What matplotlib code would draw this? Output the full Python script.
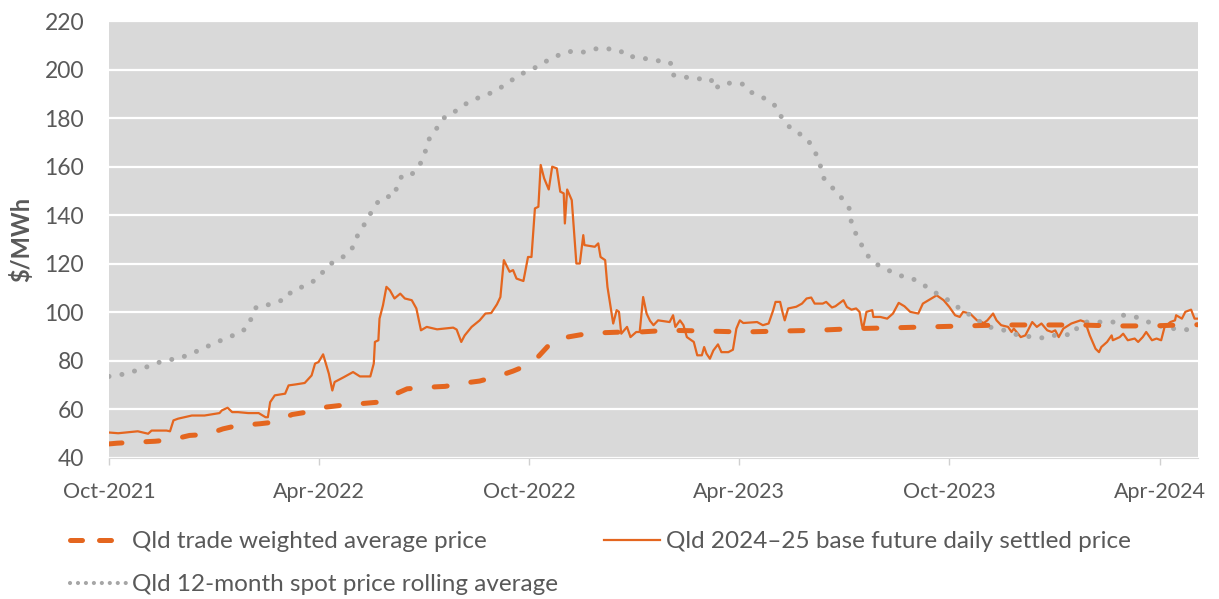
import numpy as np
import pandas as pd
import matplotlib
matplotlib.use("Agg")
import matplotlib.pyplot as plt
import matplotlib.dates as mdates
from matplotlib.lines import Line2D

plt.rcParams['font.family'] = ['Lato', 'DejaVu Sans']

START = pd.Timestamp('2021-10-01')

# --- data: day offsets from 1 Oct 2021, $/MWh ---
futures_days = [0, 8, 17, 25, 34, 37, 50, 53, 56, 60, 72, 83, 96, 98, 103, 107, 112, 121, 130, 136,
                138, 140, 144, 153, 156, 162, 170, 176, 179, 182, 186, 188, 191, 194, 196, 204, 212, 218,
                227, 230, 231, 234, 235, 238, 241, 244, 248, 253, 257, 263, 267, 271, 276, 285, 299, 302,
                306, 309, 315, 322, 327, 332, 337, 340, 343, 348, 351, 354, 360, 364, 367, 370, 373, 375,
                378, 382, 385, 389, 392, 395, 396, 398, 402, 406, 409, 412, 413, 422, 425, 427, 431, 433,
                438, 441, 443, 445, 450, 453, 458, 461, 464, 467, 470, 473, 477, 487, 490, 492, 496, 499,
                502, 508, 511, 515, 517, 519, 522, 525, 529, 532, 538, 542, 545, 548, 551, 563, 568, 573,
                577, 579, 583, 585, 587, 590, 597, 602, 606, 610, 613, 620, 623, 628, 631, 638, 641, 645,
                649, 652, 654, 655, 658, 663, 664, 670, 676, 681, 686, 691, 696, 703, 707, 712, 719, 725,
                730, 735, 739, 742, 748, 754, 760, 763, 768, 771, 775, 781, 784, 786, 792, 796, 802, 806,
                810, 815, 819, 822, 825, 829, 836, 844, 848, 852, 857, 860, 862, 867, 871, 872, 878, 881,
                885, 891, 894, 898, 901, 906, 910, 914, 917, 922, 926, 927, 932, 935, 940, 943, 946]
futures_price = [50.5, 50.2, 50.6, 51.0, 50.0, 51.3, 51.3, 51.0, 55.5, 56.2, 57.5, 57.5, 58.5, 59.6, 60.7,
                 58.9, 58.9, 58.5, 58.5, 56.8, 56.8, 63.0, 65.8, 66.5, 69.9, 70.3, 70.9, 74.0, 78.9, 79.5,
                 82.7, 79.5, 74.7, 67.8, 71.3, 73.3, 75.4, 73.6, 73.6, 78.9, 87.8, 88.5, 97.4, 102.9, 110.5,
                 109.1, 105.7, 107.7, 105.7, 105.0, 101.6, 92.6, 94.0, 93.0, 93.7, 92.9, 87.8, 90.5, 94.0,
                 96.7, 99.5, 99.7, 103.3, 106.3, 121.5, 116.7, 117.4, 113.9, 112.9, 122.8, 122.8, 142.8,
                 143.5, 160.7, 155.2, 150.6, 160.0, 159.3, 149.7, 149.0, 136.6, 150.6, 146.2, 120.1, 120.1,
                 131.8, 127.7, 127.0, 128.4, 122.8, 121.5, 110.5, 95.4, 100.9, 100.2, 91.2, 94.0, 89.8,
                 91.9, 91.9, 106.3, 99.5, 96.5, 94.7, 96.7, 96.0, 98.8, 94.0, 96.7, 94.7, 89.8, 87.8, 82.3,
                 82.3, 85.7, 83.0, 80.9, 84.3, 86.8, 83.6, 83.6, 84.6, 93.3, 96.7, 95.6, 96.0, 94.7, 95.4,
                 100.9, 104.3, 104.3, 100.2, 96.7, 101.6, 102.3, 103.6, 105.7, 106.1, 103.6, 103.6, 104.3,
                 102.0, 102.5, 105.0, 102.2, 101.1, 101.6, 100.2, 94.7, 93.3, 100.2, 100.9, 98.1, 98.1,
                 97.4, 99.5, 103.9, 102.5, 100.2, 99.5, 103.6, 105.0, 107.0, 105.0, 102.2, 98.8, 98.1,
                 100.2, 99.5, 96.7, 95.6, 96.7, 99.5, 96.7, 94.7, 94.0, 91.9, 93.3, 89.8, 90.5, 96.0, 94.0,
                 95.4, 92.6, 91.9, 92.6, 89.8, 93.3, 95.4, 96.7, 96.0, 90.5, 85.0, 83.6, 85.7, 87.8, 90.5,
                 88.5, 89.8, 91.2, 88.5, 89.2, 87.8, 89.8, 91.9, 88.5, 89.2, 88.5, 94.0, 96.0, 96.7, 98.8,
                 97.4, 100.2, 101.1, 97.4, 97.4]

spot_days = [0, 15, 31, 47, 62, 78, 92, 108, 115, 122, 124, 128, 137, 145, 154, 158, 173, 180, 186, 193,
             201, 208, 213, 216, 221, 225, 230, 235, 241, 248, 250, 254, 261, 267, 272, 275, 277, 282, 287,
             292, 298, 305, 312, 320, 329, 336, 344, 351, 358, 366, 374, 382, 389, 397, 406, 412, 420, 429,
             436, 444, 450, 458, 467, 476, 484, 489, 490, 498, 506, 515, 523, 526, 533, 542, 550, 555, 563,
             571, 578, 582, 587, 593, 600, 606, 611, 615, 618, 620, 626, 632, 638, 643, 644, 647, 651, 655,
             660, 667, 674, 682, 689, 698, 705, 713, 720, 728, 735, 741, 749, 757, 764, 772, 781, 790, 798,
             806, 815, 823, 830, 838, 842, 849, 857, 865, 874, 881, 890, 898, 906, 914, 922, 930, 940, 946]
spot_price = [73.6, 74.7, 77.2, 80.0, 81.2, 84.3, 87.4, 90.5, 91.9, 94.7, 98.8, 102.2, 102.9, 104.3, 105.4,
              108.4, 111.6, 113.5, 116.7, 120.1, 122.2, 124.2, 127.7, 131.8, 135.5, 139.1, 142.8, 146.5,
              147.6, 147.9, 151.7, 155.8, 155.8, 158.9, 162.4, 166.6, 170.7, 173.7, 177.6, 180.6, 181.7,
              184.5, 186.4, 188.2, 189.8, 191.3, 193.7, 196.0, 198.2, 199.6, 201.9, 204.0, 205.6, 207.2,
              207.7, 207.2, 208.4, 208.8, 208.4, 207.8, 205.3, 205.3, 204.4, 203.6, 203.7, 202.2, 197.8,
              196.8, 196.8, 196.0, 196.0, 191.9, 194.4, 194.4, 194.1, 191.3, 189.5, 187.8, 185.4, 182.0,
              178.5, 175.4, 173.5, 171.7, 168.2, 164.4, 160.3, 155.8, 152.4, 149.7, 146.2, 142.8, 138.7,
              134.1, 130.4, 126.6, 122.8, 119.8, 118.0, 116.2, 114.9, 113.9, 111.9, 109.8, 107.4, 105.3,
              103.3, 100.4, 98.8, 96.0, 94.0, 93.3, 92.2, 90.5, 90.1, 89.6, 89.4, 90.8, 90.8, 90.8, 94.7,
              96.0, 96.0, 96.0, 96.0, 98.8, 98.4, 97.0, 95.4, 94.3, 93.3, 93.3, 92.6, 92.6]

twap_days = [0, 7, 23, 40, 54, 70, 85, 99, 112, 131, 144, 159, 172, 189, 202, 219, 234, 248, 259, 279, 292,
             309, 322, 340, 351, 367, 374, 386, 398, 415, 429, 447, 461, 486, 519, 551, 584, 615, 648, 679,
             712, 744, 776, 810, 842, 873, 906, 938, 946]
twap_price = [45.8, 46.1, 46.5, 46.9, 47.5, 49.3, 49.7, 52.0, 53.4, 54.1, 54.8, 57.9, 58.9, 61.0, 61.7, 62.4,
              63.0, 66.2, 68.5, 69.2, 69.5, 70.9, 71.7, 74.0, 75.8, 78.9, 82.3, 88.5, 89.8, 91.2, 91.6, 91.9,
              91.9, 92.6, 92.3, 91.9, 92.3, 92.6, 93.3, 93.6, 94.0, 94.4, 94.8, 94.8, 94.8, 94.4, 94.4, 94.9,
              94.9]

tick_dates = ['2021-10-01', '2022-04-01', '2022-10-01', '2023-04-01', '2023-10-01', '2024-04-01']
labels = ['Qld trade weighted average price',
          'Qld 2024\u201325 base future daily settled price',
          'Qld 12-month spot price rolling average']

ORANGE = '#E4661F'
GREY = '#A6A6A6'
TXT = '#595959'


def to_dates(days):
    return START + pd.to_timedelta(days, unit='D')


fig = plt.figure(figsize=(12.19, 5.99), dpi=100)
ax = fig.add_axes([109 / 1219, 1 - 458 / 599, (1198 - 109) / 1219, (458 - 21) / 599])
ax.set_facecolor('#D9D9D9')

ax.plot(to_dates(futures_days), futures_price, color=ORANGE, lw=1.6, zorder=3)
ax.plot(to_dates(spot_days), spot_price, color=GREY, lw=3.6, dashes=(0.01, 2.6),
        dash_capstyle='round', zorder=4)
ax.plot(to_dates(twap_days), twap_price, color=ORANGE, lw=3.6, dashes=(2.6, 4.8),
        dash_capstyle='round', zorder=5)

ax.set_ylim(40, 220)
ax.set_yticks(np.arange(40, 221, 20))
ax.set_xlim(START, pd.Timestamp('2024-05-04'))
ax.set_xticks(pd.to_datetime(tick_dates))
ax.xaxis.set_major_formatter(mdates.DateFormatter('%b-%Y'))

ax.grid(axis='y', color='white', lw=1.6)
ax.set_axisbelow(True)
for s in ['top', 'right', 'left']:
    ax.spines[s].set_visible(False)
ax.spines['bottom'].set_color('#D9D9D9')
ax.tick_params(axis='y', length=0, pad=18, labelsize=16.5, labelcolor=TXT)
ax.tick_params(axis='x', length=5, width=1, color='#D0D0D0', pad=12, labelsize=15.5, labelcolor=TXT)
ax.set_ylabel('$/MWh', fontsize=17, fontweight='bold', color=TXT, labelpad=8)

handles = [Line2D([], [], color=ORANGE, lw=3.6, dashes=(2.4, 3.4), dash_capstyle='round'),
           Line2D([], [], color=GREY, lw=3.0, dashes=(0.01, 1.9), dash_capstyle='round'),
           Line2D([], [], color=ORANGE, lw=1.6)]
fig.legend(handles, [labels[0], labels[2], labels[1]], ncol=2, frameon=False,
           loc='upper left', bbox_to_anchor=(70 / 1219, 1 - 531 / 599),
           fontsize=17.5, labelcolor=TXT, handlelength=2.3, handletextpad=0.25,
           columnspacing=1.9, labelspacing=0.92, borderpad=0, borderaxespad=0)

fig.savefig('out.png', dpi=100)
